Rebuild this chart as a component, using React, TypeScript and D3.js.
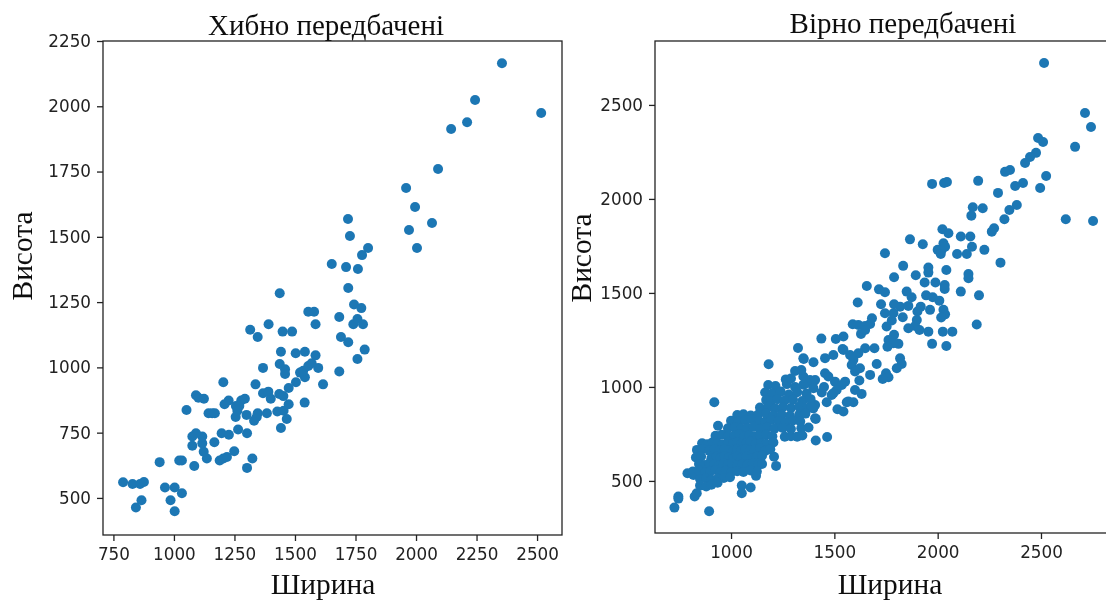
import React, { useEffect, useRef } from 'react';
import * as d3 from 'd3';

type Pt = [number, number];

const xTicksLeft = [750, 1000, 1250, 1500, 1750, 2000, 2250, 2500];
const yTicksLeft = [500, 750, 1000, 1250, 1500, 1750, 2000, 2250];
const xTicksRight = [1000, 1500, 2000, 2500];
const yTicksRight = [500, 1000, 1500, 2000, 2500];

// width, height
const wrongPoints: Pt[] = [
  [790, 560], [829, 553], [860, 553], [876, 561], [866, 491], [843, 463], [963, 540], [1003, 540], [1033, 518],
  [986, 491], [1003, 449], [941, 637], [1022, 643], [1033, 643], [1084, 622], [1136, 651], [1123, 677], [1117, 709],
  [1117, 735], [1091, 748], [1076, 735], [1076, 700], [1167, 713], [1189, 643], [1204, 651], [1219, 657], [1249, 679],
  [1324, 651], [1302, 615], [1197, 748], [1227, 742], [1265, 762], [1302, 748], [1442, 768], [1466, 802], [1331, 796],
  [1342, 810], [1346, 824], [1384, 824], [1300, 818], [1255, 810], [1427, 831], [1453, 834], [1474, 859], [1540, 865],
  [1052, 837], [1143, 824], [1158, 824], [1169, 824], [1209, 859], [1226, 873], [1256, 852], [1270, 852], [1278, 873],
  [1293, 880], [1262, 834], [1091, 893], [1101, 884], [1124, 880], [1204, 943], [1337, 935], [1368, 901], [1390, 907],
  [1400, 880], [1435, 898], [1452, 890], [1474, 921], [1504, 943], [1521, 980], [1541, 962], [1534, 987], [1555, 1005],
  [1569, 1016], [1596, 998], [1616, 935], [1683, 984], [1368, 998], [1437, 1013], [1459, 993], [1459, 975], [1442, 1060],
  [1503, 1054], [1541, 1060], [1585, 1046], [1758, 1032], [1788, 1068], [1690, 1116], [1720, 1096], [1315, 1144],
  [1346, 1116], [1391, 1165], [1449, 1137], [1488, 1137], [1585, 1165], [1555, 1213], [1579, 1213], [1683, 1193],
  [1741, 1165], [1758, 1185], [1781, 1165], [1744, 1241], [1774, 1227], [1720, 1304], [1437, 1284],
  [2517, 1974], [2355, 2165], [2244, 2024], [2211, 1939], [2145, 1913], [2091, 1760], [1959, 1687], [1996, 1614],
  [2066, 1553], [1971, 1526], [2004, 1457], [1719, 1568], [1727, 1503], [1802, 1457], [1777, 1430], [1760, 1377],
  [1652, 1396], [1711, 1384],
];

// sparse upper part of the right panel
const rightUpper: Pt[] = [
  [2515, 2723], [2713, 2457], [2742, 2383], [2665, 2277], [2486, 2324], [2510, 2303], [2476, 2245], [2447, 2223],
  [2423, 2191], [2496, 2058], [2525, 2122], [2413, 2085], [2375, 2069], [2350, 2154], [2326, 2144], [2196, 2096],
  [1973, 2080], [2031, 2085], [2045, 2090], [2292, 2032], [2383, 1968], [2347, 1941], [2323, 1892], [2170, 1956],
  [2218, 1950], [2163, 1911], [2620, 1892], [2752, 1883], [2262, 1826], [2273, 1844], [2023, 1839], [2052, 1817],
  [2112, 1800], [2158, 1800], [2166, 1746], [1866, 1785], [1928, 1759], [2028, 1764], [2000, 1729], [2020, 1729],
  [2015, 1707], [2036, 1746], [2094, 1707], [2141, 1707], [2226, 1729], [1745, 1711], [2304, 1661], [1833, 1644],
  [1789, 1583], [1894, 1594], [1955, 1635], [1955, 1608], [2042, 1622], [1937, 1555], [1989, 1555], [2034, 1542],
  [2034, 1521], [2149, 1601], [2149, 1578], [1657, 1537], [1716, 1519], [1745, 1504], [1850, 1507], [1874, 1477],
  [1944, 1487], [1976, 1477], [2008, 1459], [2112, 1507], [2200, 1487], [1613, 1449], [1726, 1440], [1789, 1440],
  [1818, 1427], [1858, 1431], [1918, 1427], [1902, 1401], [1963, 1410], [2028, 1410], [2036, 1386], [2017, 1369],
  [1745, 1392], [1786, 1392], [1831, 1371], [1778, 1353], [1753, 1321], [1682, 1365], [1589, 1333], [1616, 1330],
  [1649, 1324], [1673, 1335], [1629, 1282], [1649, 1303], [1899, 1356], [1891, 1324], [1858, 1312], [1912, 1303],
  [1955, 1294], [2025, 1294], [2071, 1294], [2189, 1332], [1973, 1229], [2042, 1218], [1789, 1277], [1762, 1250],
  [1810, 1229], [1786, 1232], [1757, 1214],
];

// middle of the right panel
const rightMiddle: Pt[] = [
  [1437, 1257], [1507, 1255], [1544, 1268], [1694, 1206], [1649, 1206], [1540, 1202], [1495, 1170], [1455, 1153],
  [1576, 1170], [1616, 1179], [1592, 1144], [1584, 1117], [1624, 1099], [1600, 1082], [1399, 1131], [1350, 1152],
  [1705, 1122], [1818, 1152], [1826, 1122], [1802, 1099], [1673, 1064], [1750, 1073], [1762, 1051], [1734, 1042],
  [1621, 1034], [1600, 984], [1632, 963], [1455, 1073], [1471, 1055], [1407, 1037], [1382, 1037], [1503, 1028],
  [1552, 1028], [1536, 1010], [1511, 984], [1439, 970], [1495, 966], [1463, 918], [1560, 918], [1592, 918],
  [1515, 881], [1544, 869], [1407, 904], [1382, 895], [1407, 833], [1350, 860], [1398, 886], [1410, 830],
  [1410, 715], [1465, 734], [1324, 1207], [1352, 1149], [1182, 1121], [919, 918], [937, 793],
  [1487, 957], [1399, 1028], [1366, 1020], [1399, 993], [1350, 1055], [1568, 922], [1544, 1197], [1450, 1000],
  [1340, 1090], [1310, 1085],
];

// dense cluster, lower left of the right panel
const rightCluster: Pt[] = [
  [726, 358], [745, 417], [745, 406], [894, 339], [824, 417], [834, 434], [1052, 434], [1052, 475], [1095, 465],
  [1218, 580], [1208, 629], [1121, 527], [789, 541], [818, 532],
  [1180, 1010], [1215, 1005], [1270, 1015], [1310, 1000], [1350, 1012], [1265, 1040], [1290, 1045],
  [1165, 970], [1200, 965], [1240, 975], [1280, 960], [1320, 972], [1365, 965],
  [1170, 930], [1195, 925], [1225, 935], [1260, 928], [1300, 932], [1345, 925], [1385, 935],
  [1140, 890], [1180, 895], [1215, 885], [1250, 892], [1290, 888], [1330, 895], [1370, 885], [1390, 892],
  [1030, 850], [1060, 855], [1095, 848], [1130, 852], [1170, 858], [1205, 848], [1245, 852], [1285, 846], [1330, 852], [1360, 858],
  [1000, 820], [1035, 815], [1070, 822], [1100, 828], [1135, 818], [1165, 812], [1195, 824], [1230, 818], [1265, 812], [1300, 822], [1335, 816],
  [985, 780], [1020, 785], [1050, 778], [1080, 782], [1110, 788], [1140, 776], [1175, 784], [1210, 778], [1250, 782], [1290, 776], [1340, 780], [1375, 784],
  [925, 740], [955, 745], [985, 738], [1015, 742], [1040, 748], [1065, 736], [1090, 744], [1115, 738], [1140, 742], [1170, 746], [1200, 738], [1260, 735], [1290, 738], [1320, 735], [1345, 742],
  [860, 700], [885, 695], [910, 705], [935, 700], [960, 694], [985, 706], [1010, 698], [1030, 704], [1050, 696], [1075, 702], [1095, 708], [1120, 696], [1145, 702], [1170, 698], [1205, 704],
  [835, 665], [860, 670], [895, 660], [920, 668], [945, 662], [970, 670], [990, 664], [1010, 658], [1030, 668], [1050, 662], [1070, 670], [1090, 660], [1115, 666], [1140, 672], [1165, 660], [1190, 668],
  [830, 625], [855, 630], [905, 620], [930, 628], [950, 622], [970, 632], [990, 624], [1010, 618], [1030, 628], [1050, 622], [1075, 630], [1100, 620], [1125, 628], [1150, 634],
  [845, 590], [870, 585], [895, 594], [920, 588], [940, 582], [965, 592], [985, 586], [1005, 594], [1030, 584], [1055, 590], [1080, 586], [1105, 594], [1130, 584], [1150, 590],
  [815, 550], [845, 555], [875, 546], [900, 552], [925, 558], [950, 548], [975, 554], [1000, 546], [1030, 552], [1060, 548], [1095, 556], [1125, 550],
  [850, 510], [880, 514], [905, 506], [935, 512], [965, 516], [995, 520],
  [850, 475], [880, 470], [905, 480], [935, 490],
];

const rightPoints: Pt[] = [...rightUpper, ...rightMiddle, ...rightCluster];

const panels = [
  {
    title: 'Хибно передбачені', points: wrongPoints, box: [103, 41, 562, 535],
    xDomain: [707, 2603], yDomain: [358, 2250], xTicks: xTicksLeft, yTicks: yTicksLeft,
    titleX: 326, titleY: 35, xLabelX: 323, yLabelX: 32, yLabelY: 256,
  },
  {
    // right edge of this panel is cut off by the picture
    title: 'Вірно передбачені', points: rightPoints, box: [655, 41, 1110, 533],
    xDomain: [632, 2834], yDomain: [223, 2840], xTicks: xTicksRight, yTicks: yTicksRight,
    titleX: 903, titleY: 33, xLabelX: 890, yLabelX: 591, yLabelY: 258,
  },
];

const App = () => {
  const ref = useRef<SVGSVGElement>(null);

  useEffect(() => {
    const svg = d3.select(ref.current);
    svg.selectAll('*').remove();

    svg.append('defs').append('filter').attr('id', 'soft')
      .append('feGaussianBlur').attr('stdDeviation', 0.4);

    const root = svg.append('g').attr('filter', 'url(#soft)');
    root.append('rect').attr('width', 1106).attr('height', 601).attr('fill', '#fff');

    panels.forEach((p) => {
      const [x0, y0, x1, y1] = p.box;
      const x = d3.scaleLinear().domain(p.xDomain).range([x0, x1]);
      const y = d3.scaleLinear().domain(p.yDomain).range([y1, y0]);
      const g = root.append('g');

      g.selectAll('circle')
        .data(p.points)
        .enter()
        .append('circle')
        .attr('cx', (d) => x(d[0]))
        .attr('cy', (d) => y(d[1]))
        .attr('r', 5)
        .attr('fill', '#1f77b4');

      g.append('rect')
        .attr('x', x0).attr('y', y0)
        .attr('width', x1 - x0).attr('height', y1 - y0)
        .attr('fill', 'none').attr('stroke', '#222').attr('stroke-width', 1.3);

      const xAxis = g.append('g').attr('transform', `translate(0,${y1})`)
        .call(d3.axisBottom(x).tickValues(p.xTicks).tickFormat(d3.format('d')).tickSize(6).tickPadding(7));
      const yAxis = g.append('g').attr('transform', `translate(${x0},0)`)
        .call(d3.axisLeft(y).tickValues(p.yTicks).tickFormat(d3.format('d')).tickSize(6).tickPadding(6));

      [xAxis, yAxis].forEach((a) => {
        a.select('.domain').remove();
        a.selectAll('line').attr('stroke', '#222').attr('stroke-width', 1.3);
        a.selectAll('text')
          .attr('fill', '#222')
          .style('font-family', '"DejaVu Sans"')
          .style('font-size', '16.8px');
      });

      const serif = (sel: any, size: number) =>
        sel.style('font-family', '"Liberation Serif"').style('font-size', `${size}px`)
          .attr('text-anchor', 'middle').attr('fill', '#111');

      serif(g.append('text').attr('x', p.titleX).attr('y', p.titleY).text(p.title), 29);
      serif(g.append('text').attr('x', p.xLabelX).attr('y', 594).text('Ширина'), 29.4);
      serif(
        g.append('text')
          .attr('transform', `translate(${p.yLabelX},${p.yLabelY}) rotate(-90)`)
          .text('Висота'),
        29.4,
      );
    });
  }, []);

  return (
    <svg
      ref={ref}
      width={1106}
      height={601}
      style={{ position: 'absolute', left: 0, top: 0 }}
    />
  );
};

export default App;
